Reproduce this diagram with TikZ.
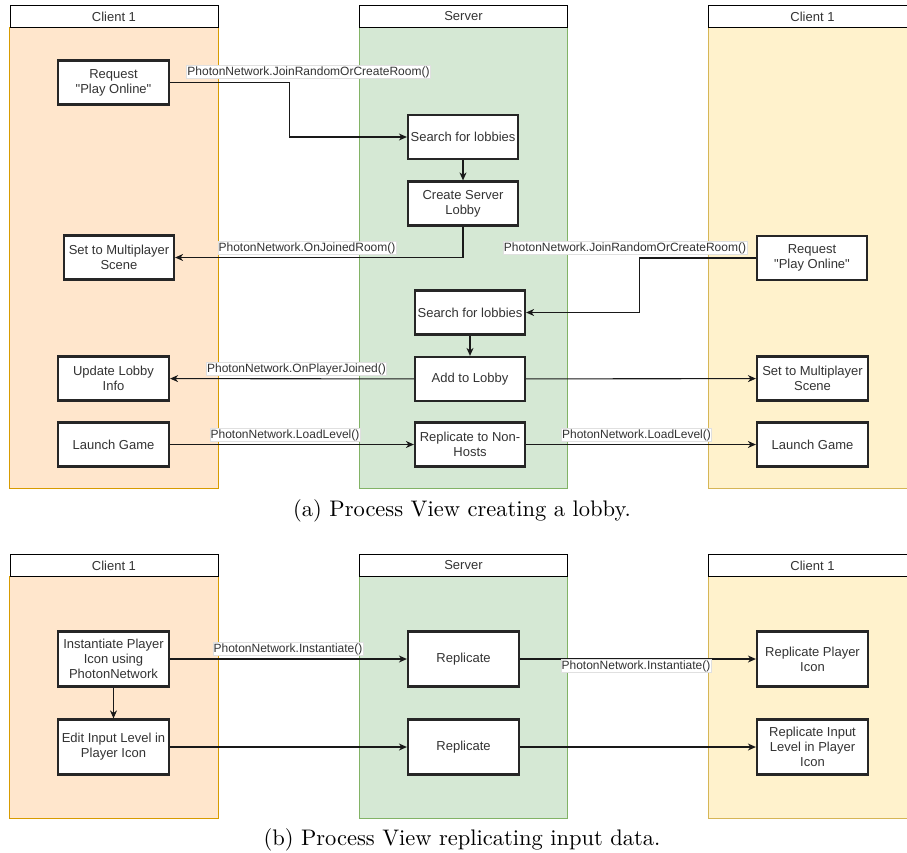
\documentclass[tikz,border=0pt]{standalone}
\usepackage{fontspec}
\newfontfamily\arialfont{Liberation Sans}
\usetikzlibrary{arrows.meta}

\definecolor{inkgray}{HTML}{333333}
\definecolor{peachfill}{HTML}{FFE6CC}
\definecolor{peachline}{HTML}{D79B00}
\definecolor{greenfill}{HTML}{D5E8D4}
\definecolor{greenline}{HTML}{82B366}
\definecolor{yellowfill}{HTML}{FFF2CC}
\definecolor{yellowline}{HTML}{D6B656}

\tikzset{
  lanehead/.style={draw=black, line width=0.9pt, fill=white, inner sep=0pt,
    minimum width=208pt, minimum height=22pt, anchor=north west,
    font=\arialfont\fontsize{13}{15}\selectfont, text=inkgray},
  procbox/.style={draw=black!85, line width=2.2pt, fill=white, inner sep=1pt,
    minimum width=110pt, minimum height=44pt, align=center,
    font=\arialfont\fontsize{13}{15}\selectfont, text=inkgray},
  tallbox/.style={procbox, minimum height=55pt},
  msg/.style={fill=white, draw=black!12, line width=0.4pt, inner sep=0.8pt,
    font=\arialfont\fontsize{12}{14}\selectfont, text=inkgray},
  flow/.style={draw=black!90, line width=1.1pt,
    -{Stealth[length=8pt, width=7pt, inset=2.5pt]}},
  capt/.style={scale=2.25, font=\rmfamily},
}

\begin{document}
\begin{tikzpicture}[x=1pt, y=-1pt]
\useasboundingbox (0,0) rectangle (907,852);
\clip (0,0) rectangle (907,852);

% ---------- (a) lobby creation: swim lanes ----------
\fill[peachfill] (9.5,27) rectangle (218,488);
\draw[peachline, line width=1pt] (9.5,27) -- (9.5,488) -- (218,488) -- (218,27);
\fill[greenfill] (359,27) rectangle (567,488);
\draw[greenline, line width=1pt] (359,27) -- (359,488) -- (567,488) -- (567,27);
\fill[yellowfill] (708,27) rectangle (916,488);
\draw[yellowline, line width=1pt] (708,27) -- (708,488) -- (916,488);

\node[lanehead] (ha1) at (9.5,5) {Client 1};
\node[lanehead] (ha2) at (359,5) {Server};
\node[lanehead] (ha3) at (708,5) {Client 1};

% process steps
\node[procbox, minimum width=111pt] (reqL)   at (113.5,82.5) {Request\\"Play Online"};
\node[procbox] (search1) at (463,137)   {Search for lobbies};
\node[procbox] (create)  at (463,203.5) {Create Server\\Lobby};
\node[procbox] (setL)    at (119,257.5) {Set to Multiplayer\\Scene};
\node[procbox] (reqR)    at (812,258)   {Request\\"Play Online"};
\node[procbox] (search2) at (470,312.5) {Search for lobbies};
\node[procbox] (add)     at (470,379)   {Add to Lobby};
\node[procbox, minimum width=111pt] (updL)   at (113.5,378.5) {Update Lobby\\Info};
\node[procbox, minimum width=111pt] (setR)   at (812.5,378.5) {Set to Multiplayer\\Scene};
\node[procbox, minimum width=111pt] (launchL) at (113.5,444.5) {Launch Game};
\node[procbox] (repl)    at (470,444.5) {Replicate to Non-\\Hosts};
\node[procbox, minimum width=111pt] (launchR) at (812.5,444.5) {Launch Game};

% connectors
\draw[flow] (reqL.east) -- ++(119,0) |- (search1.west);
\draw[flow] (search1) -- (create);
\draw[flow] (create.south) |- (setL.east);
\draw[flow] (reqR.west) -- ++(-116,0) |- (search2.east);
\draw[flow] (search2) -- (add);
\draw[flow] (add) -- (updL);
\draw[flow] (add) -- (setR);
\draw[flow] (launchL) -- (repl);
\draw[flow] (repl) -- (launchR);

% message labels
\node[msg] (m1) at (308.5,72)  {PhotonNetwork.JoinRandomOrCreateRoom()};
\node[msg] (m2) at (307,248)   {PhotonNetwork.OnJoinedRoom()};
\node[msg] (m3) at (625,248)   {PhotonNetwork.JoinRandomOrCreateRoom()};
\node[msg] (m4) at (296.5,369) {PhotonNetwork.OnPlayerJoined()};
\node[msg] (m5) at (285,435)   {PhotonNetwork.LoadLevel()};
\node[msg] (m6) at (636.5,435) {PhotonNetwork.LoadLevel()};

\node[capt] (capa) at (462,511) {(a) Process View creating a lobby.};

% ---------- (b) input replication: swim lanes ----------
\fill[peachfill] (9.5,576) rectangle (218,818);
\draw[peachline, line width=1pt] (9.5,576) -- (9.5,818) -- (218,818) -- (218,576);
\fill[greenfill] (359,576) rectangle (567,818);
\draw[greenline, line width=1pt] (359,576) -- (359,818) -- (567,818) -- (567,576);
\fill[yellowfill] (708,576) rectangle (916,818);
\draw[yellowline, line width=1pt] (708,576) -- (708,818) -- (916,818);

\node[lanehead] (hb1) at (9.5,554) {Client 1};
\node[lanehead] (hb2) at (359,554) {Server};
\node[lanehead] (hb3) at (708,554) {Client 1};

\node[tallbox, minimum width=111pt] (inst)     at (113.5,659) {Instantiate Player\\Icon using\\PhotonNetwork};
\node[tallbox, minimum width=111pt] (edit)     at (113.5,747) {Edit Input Level in\\Player Icon};
\node[tallbox, minimum width=111pt] (rep1)     at (463.5,659) {Replicate};
\node[tallbox, minimum width=111pt] (rep2)     at (463.5,747) {Replicate};
\node[tallbox, minimum width=111pt] (repIcon)  at (812.5,659) {Replicate Player\\Icon};
\node[tallbox, minimum width=111pt] (repInput) at (812.5,747) {Replicate Input\\Level in Player\\Icon};

\draw[flow] (inst) -- (edit);
\draw[flow] (inst) -- (rep1);
\draw[flow] (rep1) -- (repIcon);
\draw[flow] (edit) -- (rep2);
\draw[flow] (rep2) -- (repInput);

\node[msg] (m7) at (288,649) {PhotonNetwork.Instantiate()};
\node[msg] (m8) at (636,666) {PhotonNetwork.Instantiate()};

\node[capt] (capb) at (462,840) {(b) Process View replicating input data.};
\end{tikzpicture}
\end{document}
